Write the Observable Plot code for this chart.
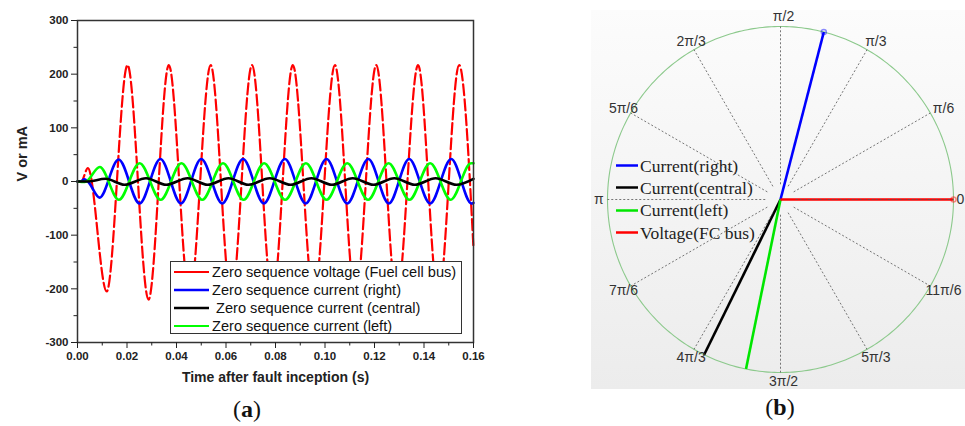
<!DOCTYPE html>
<html><head><meta charset="utf-8">
<script src="https://cdn.jsdelivr.net/npm/d3@7"></script>
<script src="https://cdn.jsdelivr.net/npm/@observablehq/plot@0.6"></script>
<style>
html,body{margin:0;padding:0;}
body{width:965px;height:426px;overflow:hidden;background:#fff;position:relative;font-family:"Liberation Sans",Arial,sans-serif;}
#a{position:absolute;left:0;top:0;width:500px;}
#b{position:absolute;left:591px;top:10px;width:400px;}
#a svg,#b svg{max-width:none !important;}
#legA{position:absolute;left:170px;top:261px;width:290px;height:71px;border:1px solid #333;background:#fff;}
#legA .row{position:absolute;left:3px;display:flex;align-items:center;transform:translateY(-50%);white-space:pre;font-size:14.6px;color:#111;}
#legA .sw{display:block;margin-right:3px;}
#legB{position:absolute;left:616px;top:0;}
#legB .row{position:absolute;left:0;display:flex;align-items:center;transform:translateY(-50%);white-space:pre;font-family:"Liberation Serif","Times New Roman",serif;font-size:17.5px;color:#222;}
#legB .sw{display:block;margin-right:2px;}
.panel{position:absolute;font-family:"Liberation Serif","Times New Roman",serif;font-size:24px;color:#111;transform:translate(-50%,-50%);}
.panel b{font-weight:bold;}
</style>
</head><body>
<div id="a"></div>
<div id="legA"></div>
<div id="b"></div>
<div id="legB"></div>
<div class="panel" style="left:247px;top:409px;">(<b>a</b>)</div>
<div class="panel" style="left:780px;top:407px;">(<b>b</b>)</div>
<script>
// ---------- Panel (a) data: waveforms ----------
const seriesNames = ["Zero sequence voltage (Fuel cell bus)", "Zero sequence current (right)", " Zero sequence current (central)", "Zero sequence current (left)"];
const seriesColors = ["#ff0000", "#0000ff", "#000000", "#00ff00"];

const redT = [0, 0.0015, 0.0042, 0.0118, 0.0202, 0.0287, 0.0369, 0.0453, 0.0538, 0.0621, 0.0705, 0.0788, 0.0870, 0.0955, 0.1040, 0.1123, 0.1207, 0.1290, 0.1376, 0.1458, 0.1542, 0.1600];
const redV = [0, 0, 25, -205, 217, -220, 217, -218, 217, -218, 217, -218, 217, -218, 217, -218, 217, -218, 217, -218, 217, -125];

const blueT = [0, 0.0012, 0.0028, 0.0042, 0.0089, 0.0166, 0.0251, 0.0335, 0.0418, 0.0500, 0.0585, 0.0669, 0.0753, 0.0838, 0.0922, 0.1006, 0.1090, 0.1175, 0.1258, 0.1340, 0.1425, 0.1510, 0.1592, 0.1600];
const blueV = [0, 0, 4, 0, -30, 41, -41, 42, -41, 42, -41, 42, -41, 42, -41, 42, -41, 42, -41, 42, -41, 42, -41, -40];

const blackT = [0, 0.0040, 0.0113, 0.0190, 0.0277, 0.0358, 0.0445, 0.0526, 0.0610, 0.0690, 0.0777, 0.0861, 0.0945, 0.1028, 0.1112, 0.1196, 0.1280, 0.1363, 0.1447, 0.1531, 0.1600];
const blackV = [0, 0, 5, -6, 6, -6, 6, -6, 6, -6, 6, -6, 6, -6, 6, -6, 6, -6, 6, -6, 5];

const greenT = [0, 0.0030, 0.0090, 0.0167, 0.0251, 0.0336, 0.0420, 0.0504, 0.0588, 0.0671, 0.0754, 0.0839, 0.0923, 0.1006, 0.1090, 0.1174, 0.1257, 0.1341, 0.1425, 0.1508, 0.1590, 0.1600];
const greenV = [0, -1, 27, -34, 34, -34, 34, -34, 34, -34, 34, -34, 34, -34, 34, -34, 34, -34, 34, -34, 34, 34];

const yMajor = [-300, -200, -100, 0, 100, 200, 300];
const yMinor = [-250, -150, -50, 50, 150, 250];
const xMajor = [0, 0.02, 0.04, 0.06, 0.08, 0.10, 0.12, 0.14, 0.16];
const xMinor = [0.01, 0.03, 0.05, 0.07, 0.09, 0.11, 0.13, 0.15];
const yLabel = "V or mA";
const xLabel = "Time after fault inception (s)";

// ---------- Panel (b) data: phasors ----------
const phasorNames = ["Current(right)", "Current(central)", "Current(left)", "Voltage(FC bus)"];
const phasorAngles = [75.5, 243.8, 258.5, 0];   // degrees
const phasorMags = [1, 1, 1, 1];
const phasorColors = ["#0000ff", "#000000", "#00e600", "#ff0000"];
const phasorMarker = [true, false, false, true];
const angleTicks = [0, 30, 60, 90, 120, 150, 180, 210, 240, 270, 300, 330];
const angleTickLabels = ["0", "π/6", "π/3", "π/2", "2π/3", "5π/6", "π", "7π/6", "4π/3", "3π/2", "5π/3", "11π/6"];

// ---------- Panel (a) ----------
const rows = (T, V) => T.map((t, i) => ({t, v: V[i]}));
const lineOpts = {x: "t", y: "v", curve: "monotone-x", strokeLinejoin: "round"};

const chartA = Plot.plot({
  width: 500, height: 392,
  marginLeft: 77, marginRight: 27, marginTop: 20, marginBottom: 50,
  x: {domain: [0, 0.16]},
  y: {domain: [-300, 300]},
  style: {fontFamily: "'Liberation Sans', Arial, sans-serif", fontSize: "11.5px", fontWeight: "bold", color: "#222", background: "transparent", maxWidth: "none"},
  marks: [
    Plot.line(rows(redT, redV), {...lineOpts, stroke: seriesColors[0], strokeWidth: 2.2, strokeDasharray: "11,4"}),
    Plot.line(rows(blueT, blueV), {...lineOpts, stroke: seriesColors[1], strokeWidth: 2.6}),
    Plot.line(rows(greenT, greenV), {...lineOpts, stroke: seriesColors[3], strokeWidth: 2.6}),
    Plot.line(rows(blackT, blackV), {...lineOpts, stroke: seriesColors[2], strokeWidth: 2.6}),
    Plot.frame({stroke: "#333", strokeWidth: 1.5}),
    Plot.axisY({ticks: yMajor, tickSize: 6, tickPadding: 3, tickFormat: d => String(d), label: null}),
    Plot.axisY({ticks: yMinor, tickSize: 3.5, tickFormat: () => "", label: null}),
    Plot.axisX({ticks: xMajor, tickSize: 6, tickPadding: 3, tickFormat: d3.format(".2f"), label: null}),
    Plot.axisX({ticks: xMinor, tickSize: 3.5, tickFormat: () => "", label: null}),
    Plot.text([yLabel], {text: d => d, frameAnchor: "left", dx: -55, rotate: -90, fontSize: 14.5, fontWeight: "bold"}),
    Plot.text([xLabel], {text: d => d, frameAnchor: "bottom", dy: 39, fontSize: 14, fontWeight: "bold"})
  ]
});
document.getElementById("a").appendChild(chartA);

// swatch helper (inline SVG line)
const NS = "http://www.w3.org/2000/svg";
function swatch(len, color, width) {
  const s = document.createElementNS(NS, "svg");
  s.setAttribute("class", "sw");
  s.setAttribute("width", len);
  s.setAttribute("height", 6);
  const l = document.createElementNS(NS, "line");
  l.setAttribute("x1", 0); l.setAttribute("x2", len);
  l.setAttribute("y1", 3); l.setAttribute("y2", 3);
  l.setAttribute("stroke", color);
  l.setAttribute("stroke-width", width);
  s.appendChild(l);
  return s;
}

// legend (a)
const legA = document.getElementById("legA");
const legAWidths = [2, 2.6, 2.6, 2.2];
seriesNames.forEach((name, i) => {
  const row = document.createElement("div");
  row.className = "row";
  row.style.top = (9.5 + i * 18.2) + "px";
  const tx = document.createElement("span");
  tx.textContent = name;
  row.appendChild(swatch(35, seriesColors[i], legAWidths[i]));
  row.appendChild(tx);
  legA.appendChild(row);
});

// ---------- Panel (b) ----------
const rad = d => d * Math.PI / 180;
const phasors = phasorNames.map((name, i) => ({name, angle: phasorAngles[i], mag: phasorMags[i], color: phasorColors[i], marker: phasorMarker[i]}));
const circleDeg = d3.range(0, 361, 1);

const chartB = Plot.plot({
  width: 400, height: 379,
  x: {domain: [-1, 1], range: [16, 362]},
  y: {domain: [-1, 1], range: [362, 16]},
  axis: null,
  style: {fontFamily: "'Liberation Sans', Arial, sans-serif", fontSize: "14px", color: "#333", background: "linear-gradient(#fcfcfc, #ececec)", overflow: "visible", maxWidth: "none"},
  marks: [
    Plot.line(circleDeg, {x: d => Math.cos(rad(d)), y: d => Math.sin(rad(d)), stroke: "#8cc98c", strokeWidth: 1.1}),
    ...phasors.map(p => Plot.link([p], {
      x1: () => 0, y1: () => 0,
      x2: d => d.mag * Math.cos(rad(d.angle)), y2: d => d.mag * Math.sin(rad(d.angle)),
      stroke: p.color, strokeWidth: 2.6
    })),
    Plot.dot(phasors.filter(p => p.marker), {
      x: d => d.mag * Math.cos(rad(d.angle)), y: d => d.mag * Math.sin(rad(d.angle)),
      r: 2.5, stroke: d => d.color, strokeOpacity: 0.45, fill: "none"
    }),
    Plot.link(angleTicks, {
      x1: d => 0.088 * Math.cos(rad(d)), y1: d => 0.088 * Math.sin(rad(d)),
      x2: d => Math.cos(rad(d)), y2: d => Math.sin(rad(d)),
      stroke: "#555", strokeWidth: 0.8, strokeDasharray: "2,2"
    }),
    Plot.text(angleTicks, {
      x: d => Math.min(1.068 * Math.cos(rad(d)), 1.022), y: d => 1.055 * Math.sin(rad(d)),
      text: (d, i) => angleTickLabels[i], dx: 3, fill: "#333", fontSize: 14
    })
  ]
});
document.getElementById("b").appendChild(chartB);

// legend (b)
const legB = document.getElementById("legB");
phasors.forEach((p, i) => {
  const row = document.createElement("div");
  row.className = "row";
  row.style.top = (165.5 + i * 22.4) + "px";
  const tx = document.createElement("span");
  tx.textContent = p.name;
  row.appendChild(swatch(22, p.color, 2.6));
  row.appendChild(tx);
  legB.appendChild(row);
});
</script>
</body></html>
